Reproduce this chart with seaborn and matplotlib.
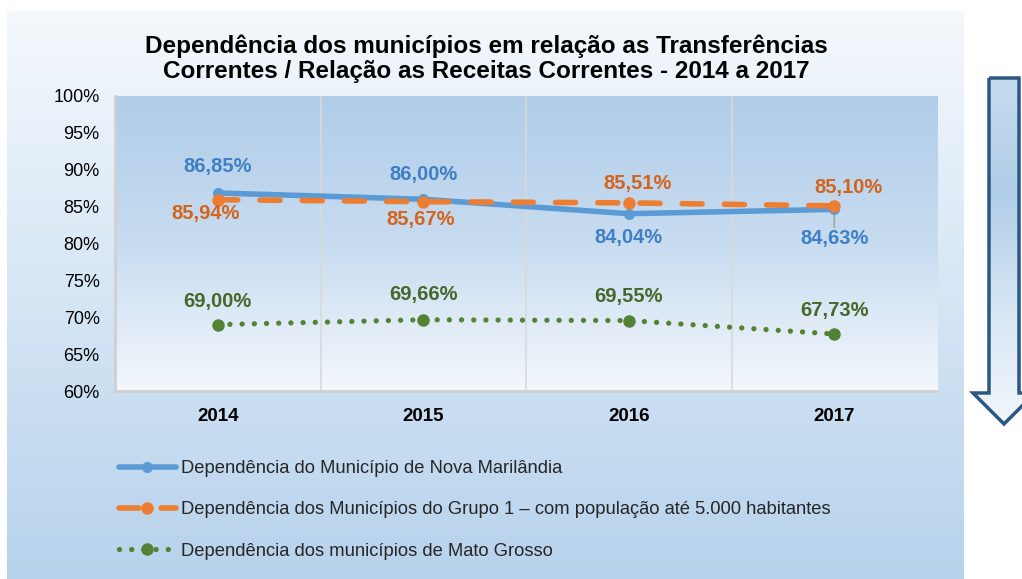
import numpy as np
import pandas as pd
import matplotlib
matplotlib.use("Agg")
import matplotlib.pyplot as plt
from matplotlib.colors import LinearSegmentedColormap
from matplotlib.patches import Polygon
import seaborn as sns

# ---------------- data ----------------
anos = ["2014", "2015", "2016", "2017"]
nova_marilandia = [86.85, 86.00, 84.04, 84.63]
grupo1 = [85.94, 85.67, 85.51, 85.10]
mato_grosso = [69.00, 69.66, 69.55, 67.73]
nomes = [
    "Dependência do Município de Nova Marilândia",
    "Dependência dos Municípios do Grupo 1 – com população até 5.000 habitantes",
    "Dependência dos municípios de Mato Grosso",
]
y_ticks = [60, 65, 70, 75, 80, 85, 90, 95, 100]
titulo = ("Dependência dos municípios em relação as Transferências\n"
          "Correntes / Relação as Receitas Correntes - 2014 a 2017")

# ---------------- style ----------------
sns.set_theme(style="white")
plt.rcParams["font.family"] = ["Liberation Sans", "DejaVu Sans"]

W, H = 1022, 579
fig = plt.figure(figsize=(W / 100, H / 100), dpi=100)
fig.patch.set_facecolor("white")

def fx(px):
    return px / W

def fy(py):
    return 1 - py / H

# outer chart-area gradient
bg = fig.add_axes([fx(7), 0, fx(963) - fx(7), fy(11)], zorder=-2)
cm_outer = LinearSegmentedColormap.from_list("o", ["#f4f8fc", "#d6e6f5", "#b7d2ec"])
bg.imshow(np.linspace(0, 1, 256).reshape(-1, 1), aspect="auto", cmap=cm_outer,
          extent=[0, 1, 0, 1], origin="upper")
bg.set_axis_off()

# main axes
ax = fig.add_axes([fx(115), fy(391), fx(937) - fx(115), fy(96) - fy(391)])
cm_plot = LinearSegmentedColormap.from_list("p", ["#b0cde9", "#c8dcf0", "#f3f7fc"])
ax.imshow(np.linspace(0, 1, 256).reshape(-1, 1), aspect="auto", cmap=cm_plot,
          extent=[-0.5, 3.5, 60, 100], origin="upper", zorder=0)
ax.set_xlim(-0.5, 3.5)
ax.set_ylim(60, 100)

pos = np.arange(len(anos))
df = pd.DataFrame({"pos": pos, "nm": nova_marilandia, "g1": grupo1, "mt": mato_grosso})

c_blue, c_orange, c_green = "#5b9bd5", "#ed7d31", "#548235"
t_blue, t_orange, t_green = "#3f7fc5", "#d4631c", "#46682a"

sns.lineplot(data=df, x="pos", y="mt", ax=ax, color=c_green, lw=3.8,
             linestyle=(0, (0.01, 2.3)), dash_capstyle="round",
             marker="o", markersize=9, markeredgewidth=0, label=nomes[2], zorder=3)
sns.lineplot(data=df, x="pos", y="nm", ax=ax, color=c_blue, lw=4,
             solid_capstyle="round", marker="o", markersize=8,
             markeredgewidth=0, label=nomes[0], zorder=4)
sns.lineplot(data=df, x="pos", y="g1", ax=ax, color=c_orange, lw=4,
             linestyle=(0, (3.6, 4.0)), dash_capstyle="round",
             marker="o", markersize=9, markeredgewidth=0, label=nomes[1], zorder=5)

# data labels (offsets in points)
def fmt(v):
    return f"{v:.2f}%".replace(".", ",")

off_nm = [(0, 19), (0, 18), (0, -17), (0, -21)]
off_g1 = [(-9, -10), (-2, -13), (6, 14), (10, 13)]
off_mt = [(0, 17), (0, 18), (0, 17), (0, 17)]
for series, offs, col in [(nova_marilandia, off_nm, t_blue),
                          (grupo1, off_g1, t_orange),
                          (mato_grosso, off_mt, t_green)]:
    for i, v in enumerate(series):
        ax.annotate(fmt(v), (pos[i], v), xytext=offs[i], textcoords="offset points",
                    ha="center", va="center", fontsize=14.5, fontweight="bold",
                    color=col, zorder=6)

# small leader line for the last blue label
ax.annotate("", xy=(pos[3], nova_marilandia[3]), xytext=(0, -13),
            textcoords="offset points",
            arrowprops=dict(arrowstyle="-", color="#a6a6a6", lw=1.2,
                            shrinkA=0, shrinkB=4), zorder=3.5)

# grid / axes
for b in [0.5, 1.5, 2.5]:
    ax.axvline(b, color="#d9d9d9", lw=1.2, zorder=1)
ax.set_xticks(pos)
ax.set_xticklabels(anos, fontsize=13.5, fontweight="bold", color="black")
ax.set_yticks(y_ticks)
ax.set_yticklabels([f"{t}%" for t in y_ticks], fontsize=13, color="black")
ax.tick_params(axis="x", length=0, pad=12)
ax.tick_params(axis="y", length=0, pad=11)
ax.set_xlabel("")
ax.set_ylabel("")
for s in ["top", "right"]:
    ax.spines[s].set_visible(False)
for s in ["left", "bottom"]:
    ax.spines[s].set_color("#d0d0d0")
    ax.spines[s].set_linewidth(2)
ax.grid(False)

# legend
handles, labels = ax.get_legend_handles_labels()
order = [labels.index(n) for n in nomes]
ax.get_legend().remove()
fig.legend([handles[i] for i in order], [labels[i] for i in order],
           loc="upper left", bbox_to_anchor=(fx(119), fy(460)), frameon=False,
           fontsize=13.2, handlelength=3.1, handletextpad=0.27, labelspacing=1.33,
           borderpad=0, borderaxespad=0, numpoints=1)

# title
fig.text(fx(486), fy(59), titulo, ha="center", va="center", fontsize=17.5,
         fontweight="bold", color="black", linespacing=1.12)

# down arrow on the right
ov = fig.add_axes([0, 0, 1, 1], zorder=10)
ov.set_xlim(0, W)
ov.set_ylim(H, 0)
ov.set_axis_off()
arrow_pts = [(989, 78), (1019, 78), (1019, 393), (1035, 393), (1004, 424),
             (973, 393), (989, 393)]
poly = Polygon(arrow_pts, closed=True, facecolor="none", edgecolor="#2b5783",
               lw=2.5, joinstyle="miter", zorder=3)
cm_arrow = LinearSegmentedColormap.from_list("a", ["#c6dbef", "#b0cde8", "#d7e6f4", "#f1f6fb"])
im = ov.imshow(np.linspace(0, 1, 256).reshape(-1, 1), aspect="auto", cmap=cm_arrow,
               extent=[970, 1040, 424, 78], origin="upper", zorder=2)
clip = Polygon(arrow_pts, closed=True, transform=ov.transData, facecolor="none", edgecolor="none")
ov.add_patch(clip)
im.set_clip_path(clip)
ov.add_patch(poly)
ov.set_xlim(0, W)
ov.set_ylim(H, 0)

fig.savefig("out.png", dpi=100)
